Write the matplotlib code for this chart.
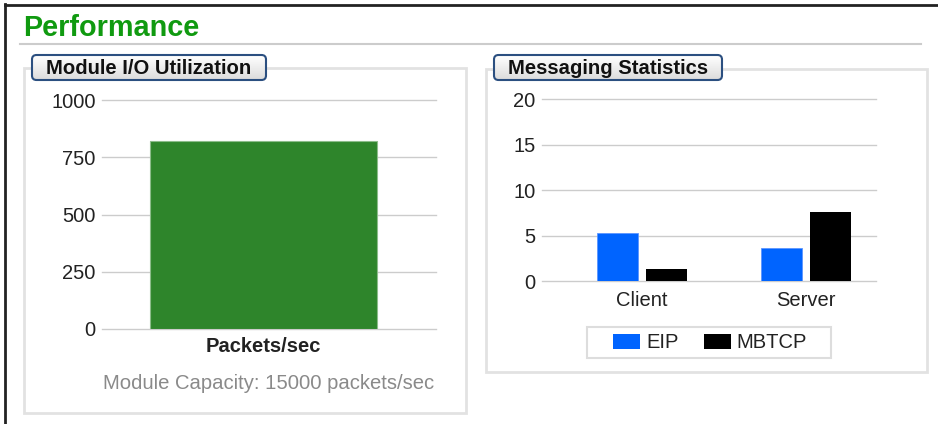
import matplotlib.pyplot as plt
import numpy as np
from matplotlib.lines import Line2D
from matplotlib.patches import Rectangle, FancyBboxPatch, Patch

# values shown on the dashboard
io_labels = ["Packets/sec"]
io_values = [823]
io_ticks = [0, 250, 500, 750, 1000]

msg_categories = ["Client", "Server"]
eip_values = [5.3, 3.7]
mbtcp_values = [1.4, 7.6]
msg_ticks = [0, 5, 10, 15, 20]

W, H = 938, 424

plt.rcParams['font.family'] = ['Liberation Sans', 'DejaVu Sans']
fig = plt.figure(figsize=(W / 100, H / 100), dpi=100)
inch = fig.dpi_scale_trans


def fx(x):
    return x / W


def fy(y):
    return 1 - y / H


def rect(x0, y0, x1, y1):
    return [x0 / W, 1 - y1 / H, (x1 - x0) / W, (y1 - y0) / H]


# page frame and heading
fig.add_artist(Line2D([fx(5), fx(5)], [fy(4), 0], color='#222222', lw=2))
fig.add_artist(Line2D([fx(5), 1], [fy(5), fy(5)], color='#222222', lw=2))
fig.text(fx(23), fy(35.5), 'Performance', color='#109a10', fontsize=20.8,
         weight='bold', ha='left', va='baseline')
fig.add_artist(Line2D([fx(20), fx(921)], [fy(44), fy(44)], color='#cccccc', lw=1.5))

# panel borders
for x0, y0, x1, y1 in [(24, 68, 466, 413), (486, 69, 927, 372)]:
    fig.add_artist(Rectangle((fx(x0), fy(y1)), fx(x1) - fx(x0), fy(y0) - fy(y1),
                             transform=fig.transFigure, fill=False,
                             edgecolor='#e2e2e2', lw=2))

# tab titles with a soft gradient fill
grad = np.linspace(1.0, 0.86, 50).reshape(-1, 1)
for (x0, y0, x1, y1), label, base in [((32, 55, 266, 80), 'Module I/O Utilization', 74),
                                      ((494, 55, 722, 80), 'Messaging Statistics', 73.5)]:
    tab = FancyBboxPatch((x0 / 100, (H - y1) / 100), (x1 - x0) / 100, (y1 - y0) / 100,
                         boxstyle='round,pad=0,rounding_size=0.045',
                         transform=inch, facecolor='none', edgecolor='#2b4f80',
                         lw=1.5, zorder=5)
    gax = fig.add_axes(rect(x0, y0, x1, y1), zorder=4)
    im = gax.imshow(grad, cmap='gray', vmin=0, vmax=1, aspect='auto',
                    extent=[0, 1, 0, 1])
    gax.axis('off')
    fig.add_artist(tab)
    im.set_clip_path(tab)
    fig.text(fx((x0 + x1) / 2), fy(base), label, fontsize=14.6, weight='bold',
             color='#111111', ha='center', va='baseline', zorder=6)


def style_axes(ax):
    for s in ax.spines.values():
        s.set_visible(False)
    ax.set_axisbelow(True)
    ax.grid(axis='y', color='#cccccc', lw=1)
    ax.tick_params(length=0, labelsize=14.5, labelcolor='#222222')
    ax.tick_params(axis='y', pad=4.5)
    for gl in ax.get_ygridlines():
        gl.set_clip_on(False)


# module I/O utilization
ax1 = fig.add_axes(rect(102, 100, 436, 329))
ax1.bar(np.arange(len(io_values)), io_values, width=0.68, color='#2e852b',
        edgecolor='#8cbc8a', lw=0.8)
ax1.set_ylim(0, 1000)
ax1.set_xlim(-0.484, 0.517)
ax1.set_yticks(io_ticks)
ax1.set_xticks(np.arange(len(io_labels)))
ax1.set_xticklabels(io_labels, fontweight='bold', color='#111111')
style_axes(ax1)
ax1.tick_params(axis='x', pad=6)
fig.text(fx(269), fy(389), 'Module Capacity: 15000 packets/sec', fontsize=14.6,
         color='#8a8a8a', ha='center', va='baseline')

# messaging statistics
ax2 = fig.add_axes(rect(541.7, 99.3, 875.7, 281.3))
x = np.arange(len(msg_categories))
ax2.bar(x - 0.149, eip_values, width=0.25, color='#0064ff', edgecolor='#5c95ff',
        lw=0.6, label='EIP')
ax2.bar(x + 0.149, mbtcp_values, width=0.25, color='#000000', label='MBTCP')
ax2.set_ylim(0, 20)
ax2.set_xlim(-0.612, 1.425)
ax2.set_yticks(msg_ticks)
ax2.set_xticks(x)
ax2.set_xticklabels(msg_categories)
style_axes(ax2)
ax2.tick_params(axis='x', pad=7)

fig.add_artist(Rectangle((fx(586.7), fy(358.3)), fx(830.7) - fx(586.7),
                         fy(327.3) - fy(358.3), transform=fig.transFigure,
                         fill=False, edgecolor='#dddddd', lw=1.5))
handles = [Patch(facecolor='#0064ff'), Patch(facecolor='#000000')]
leg = fig.legend(handles, ['EIP', 'MBTCP'], loc='center',
                 bbox_to_anchor=(fx(710), fy(343)), ncol=2, frameon=False,
                 fontsize=14.5, handlelength=1.35, handleheight=0.8,
                 handletextpad=0.3, columnspacing=1.25, borderpad=0.2)
for t in leg.get_texts():
    t.set_color('#222222')

fig.savefig('out.png', dpi=100)
